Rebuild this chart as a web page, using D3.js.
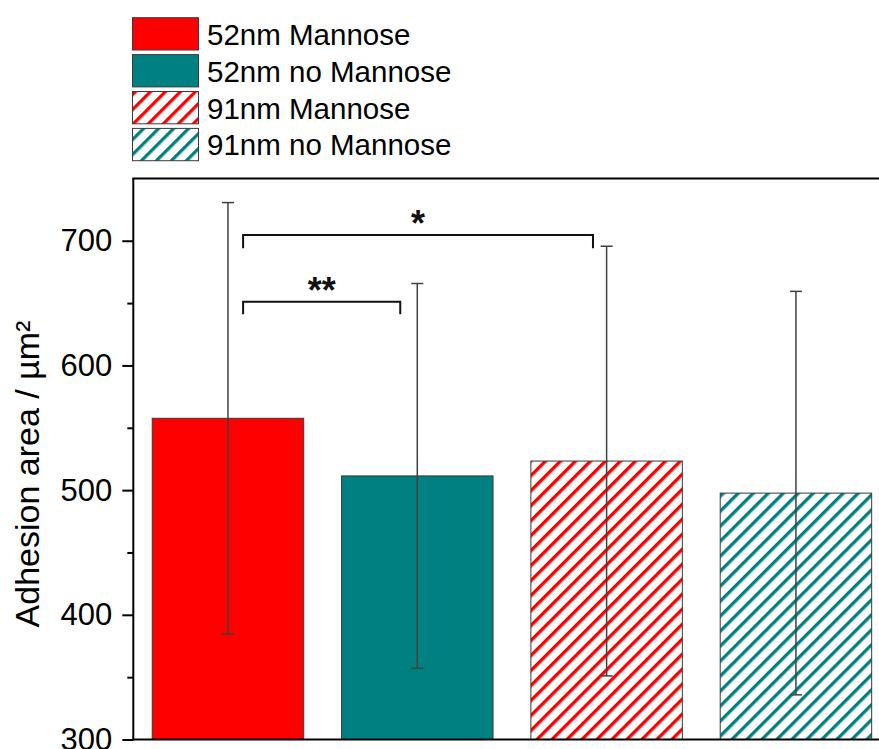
<!DOCTYPE html>
<html>
<head>
<meta charset="utf-8">
<script src="https://cdn.jsdelivr.net/npm/d3@7"></script>
<style>
  html, body { margin: 0; padding: 0; background: #fff; }
  svg { display: block; font-family: "Liberation Sans", Arial, sans-serif; }
</style>
</head>
<body>
<svg id="chart" width="879" height="749"></svg>
<script>
// Adhesion area per particle group (mean ± SD)
const categories = ["52nm Mannose", "52nm no Mannose", "91nm Mannose", "91nm no Mannose"];
const means = [557.6, 511.4, 523.3, 497.6];
const errors = [173.0, 154.3, 172.3, 161.8];
const colors = ["#ff0000", "#008080", "#ff0000", "#008080"];
const hatched = [false, false, true, true];
const yTicks = [300, 400, 500, 600, 700];
const yMinorTicks = [350, 450, 550, 650, 750];
// significance brackets: bar indices, bracket level, leg bottom, offsets from bar centers
const bracketFrom = [0, 0];
const bracketTo = [2, 1];
const bracketLevel = [704.6, 651.1];
const bracketLeg = [693.9, 641.0];
const bracketLabels = ["*", "**"];
const bracketInset = [[0.08, 0.072], [0.08, 0.09]];

const svg = d3.select("#chart");

const x = d3.scaleLinear().domain([0.5, 4.5]).range([133.3, 890.6]);
const y = d3.scaleLinear().domain([300, 750]).range([739.5, 178.4]);
const barW = x(1.4) - x(0.6);

// hatch patterns
const defs = svg.append("defs");
["#ff0000", "#008080"].forEach((c, i) => {
  const p = defs.append("pattern")
    .attr("id", "hatch" + i)
    .attr("patternUnits", "userSpaceOnUse")
    .attr("width", 10.6).attr("height", 10)
    .attr("patternTransform", "rotate(45)");
  p.append("rect").attr("width", 10.6).attr("height", 10).attr("fill", "#fff");
  p.append("rect").attr("x", 0).attr("width", 3.3).attr("height", 10).attr("fill", c);
});
const fillFor = i => hatched[i] ? `url(#hatch${colors[i] === "#ff0000" ? 0 : 1})` : colors[i];

// bars
svg.append("g").selectAll("rect")
  .data(means)
  .join("rect")
  .attr("x", (d, i) => x(i + 1) - barW / 2)
  .attr("y", d => y(d))
  .attr("width", barW)
  .attr("height", d => y(300) - y(d))
  .attr("fill", (d, i) => fillFor(i))
  .attr("stroke", "#3a3a3a")
  .attr("stroke-width", 1);

// error bars
const eb = svg.append("g").attr("stroke", "#404040").attr("stroke-width", 1.5).attr("fill", "none");
means.forEach((m, i) => {
  const cx = x(i + 1), top = y(m + errors[i]), bot = y(m - errors[i]);
  eb.append("line").attr("x1", cx).attr("x2", cx).attr("y1", top).attr("y2", bot);
  eb.append("line").attr("x1", cx - 6).attr("x2", cx + 6).attr("y1", top).attr("y2", top);
  eb.append("line").attr("x1", cx - 6).attr("x2", cx + 6).attr("y1", bot).attr("y2", bot);
});

// significance brackets
const br = svg.append("g");
bracketFrom.forEach((f, k) => {
  const x1 = x(f + 1 + bracketInset[k][0]);
  const x2 = x(bracketTo[k] + 1 - bracketInset[k][1]);
  const yl = y(bracketLevel[k]), yb = y(bracketLeg[k]);
  br.append("path")
    .attr("d", `M${x1},${yb}V${yl}H${x2}V${yb}`)
    .attr("fill", "none").attr("stroke", "#111").attr("stroke-width", 2);
  br.append("text")
    .attr("x", (x1 + x2) / 2).attr("y", yl + 1)
    .attr("text-anchor", "middle")
    .attr("font-size", 36).attr("font-weight", "bold")
    .attr("fill", "#111")
    .text(bracketLabels[k]);
});

// axes
const axisColor = "#000";
const left = svg.append("g").attr("transform", `translate(${x(0.5)},0)`);
left.call(d3.axisLeft(y).tickValues(yTicks).tickSize(11).tickPadding(10).tickFormat(d3.format("d")));
left.append("g").call(d3.axisLeft(y).tickValues(yMinorTicks.filter(v => v < 750)).tickSize(6).tickFormat(""));
left.selectAll("path.domain").remove();
left.selectAll("line").attr("stroke", axisColor).attr("stroke-width", 2);
left.selectAll("text").attr("font-size", 31).attr("fill", "#000")
  .attr("font-family", "Liberation Sans, Arial, sans-serif");

const right = svg.append("g").attr("transform", `translate(${x(4.5)},0)`);
right.call(d3.axisLeft(y).tickValues(yTicks.concat(yMinorTicks.filter(v => v < 750))).tickSize(-13).tickFormat(""));
right.selectAll("path.domain").remove();
right.selectAll("line").attr("stroke", axisColor).attr("stroke-width", 2);

// frame
const frame = svg.append("g").attr("stroke", axisColor).attr("stroke-width", 2).attr("fill", "none");
frame.append("line").attr("x1", x(0.5)).attr("x2", x(0.5)).attr("y1", y(750)).attr("y2", y(300));
frame.append("line").attr("x1", x(0.5) - 1).attr("x2", x(4.5)).attr("y1", y(750)).attr("y2", y(750));
frame.append("line").attr("x1", x(4.5)).attr("x2", x(4.5)).attr("y1", y(750)).attr("y2", y(300));
frame.append("line").attr("x1", x(0.5) - 1).attr("x2", x(4.5)).attr("y1", y(300)).attr("y2", y(300));

// y title
svg.append("text")
  .attr("transform", `translate(39,474) rotate(-90)`)
  .attr("text-anchor", "middle")
  .attr("font-size", 34)
  .attr("fill", "#000")
  .text("Adhesion area / µm²");

// legend
const lg = svg.append("g");
categories.forEach((c, i) => {
  const top = 17.7 + i * 36.9;
  lg.append("rect")
    .attr("x", 132.5).attr("y", top)
    .attr("width", 66).attr("height", 32.3)
    .attr("fill", fillFor(i))
    .attr("stroke", "#3a3a3a").attr("stroke-width", 1);
  lg.append("text")
    .attr("x", 207).attr("y", top + 27)
    .attr("font-size", 29.5)
    .attr("fill", "#000")
    .text(c);
});
</script>
</body>
</html>
